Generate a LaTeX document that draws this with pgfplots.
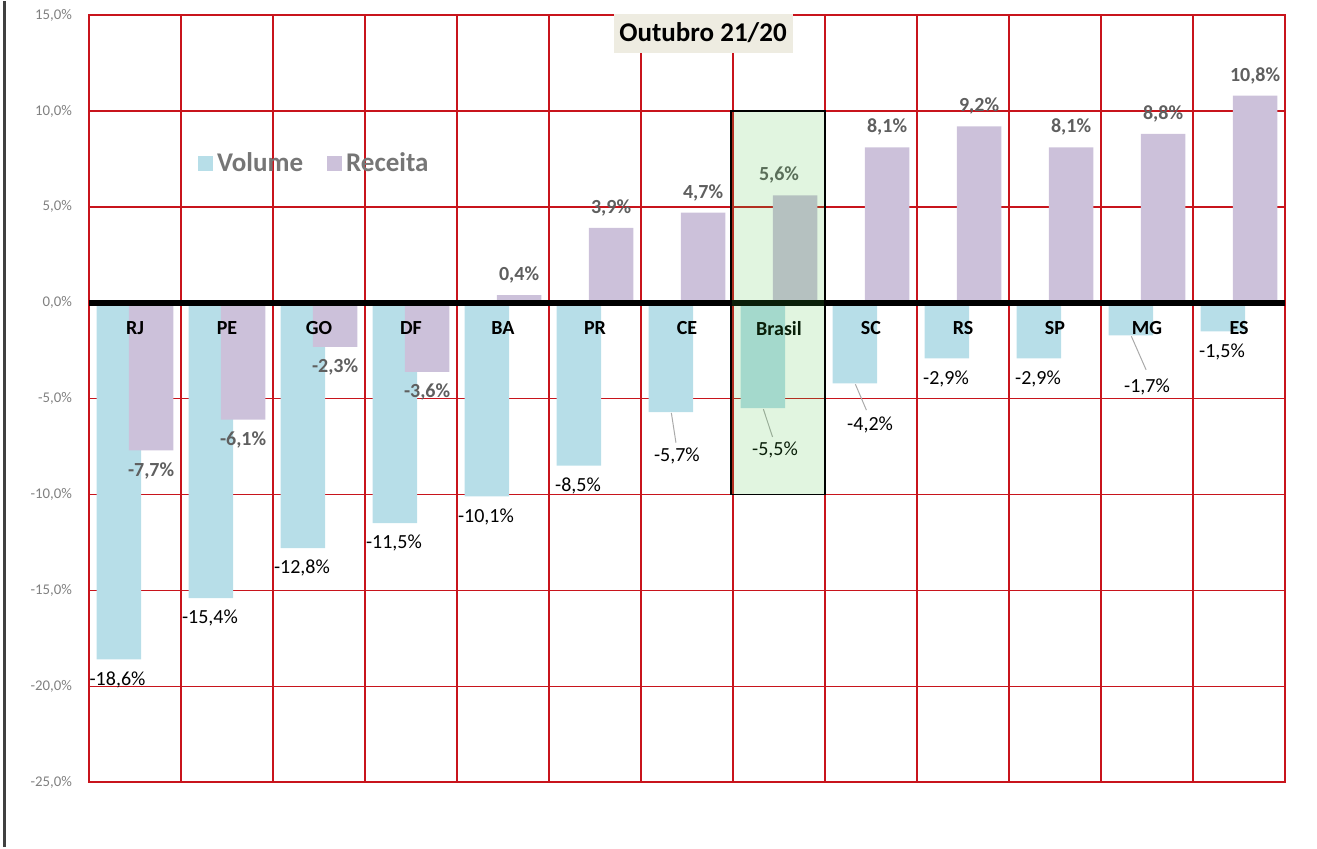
\documentclass[border=0pt]{standalone}
\usepackage{pgfplots}
\pgfplotsset{compat=1.18}
\usepackage{pgfplotstable}
\usepackage{fontspec}
\setmainfont{Carlito}
\definecolor{volc}{RGB}{183,222,232}
\definecolor{recc}{RGB}{204,193,218}
\definecolor{gridred}{RGB}{200,20,28}
\definecolor{tickgray}{RGB}{128,128,128}
\definecolor{labgray}{RGB}{95,95,95}
\definecolor{leggray}{RGB}{118,118,118}
\definecolor{titlebg}{RGB}{238,236,225}
\definecolor{boxgreen}{RGB}{66,193,61}
\definecolor{leadgray}{RGB}{170,170,170}
\definecolor{bordergray}{RGB}{64,64,64}

\pgfplotstableread{
x vol rec
0 -18.6 -7.7
1 -15.4 -6.1
2 -12.8 -2.3
3 -11.5 -3.6
4 -10.1 0.4
5 -8.5 3.9
6 -5.7 4.7
7 -5.5 5.6
8 -4.2 8.1
9 -2.9 9.2
10 -2.9 8.1
11 -1.7 8.8
12 -1.5 10.8
}\data

\begin{document}
\begin{tikzpicture}
\path (-44.5bp,-32.5bp) rectangle (614bp,390.5bp);
\draw[bordergray, line width=1.1bp] (-42.2bp,-32.5bp) -- (-42.2bp,390.5bp);
\begin{axis}[
  set layers=standard,
  at={(0,0)}, anchor=south west,
  scale only axis, width=598bp, height=383.5bp,
  clip=false,
  xmin=-0.5, xmax=12.5, ymin=-25, ymax=15,
  xtick={0,...,12},
  xticklabels={RJ,PE,GO,DF,BA,PR,CE,Brasil,SC,RS,SP,MG,ES},
  xticklabel style={/pgfplots/on layer=axis descriptions, anchor=center, yshift=227bp, font=\fontsize{10bp}{12bp}\selectfont\bfseries, text=black},
  minor xtick={-0.5,0.5,...,12.5},
  xminorgrids=true, xmajorgrids=false,
  ytick={-25,-20,...,15},
  yticklabels={{-25,0\%},{-20,0\%},{-15,0\%},{-10,0\%},{-5,0\%},{0,0\%},{5,0\%},{10,0\%},{15,0\%}},
  yticklabel style={font=\fontsize{7.4bp}{9bp}\selectfont, text=tickgray, xshift=-5bp},
  ymajorgrids=true,
  major tick length=0pt, minor tick length=0pt,
  grid style={gridred, line width=0.7bp},
  minor grid style={gridred, line width=0.7bp},
  axis line style={gridred, line width=0.7bp},
  legend style={draw=none, fill=none, at={(0.091,0.807)}, anchor=west,
    legend columns=-1, font=\fontsize{13.5bp}{16bp}\selectfont\bfseries, text=leggray,
    inner xsep=0pt, inner ysep=0pt,
    /tikz/every even column/.append style={column sep=10bp}},
]
\addplot[ybar, bar width=0.485, bar shift=-0.175, fill=volc, draw=none,
  legend image code/.code={\fill[volc] (0bp,-3.75bp) rectangle (7.5bp,3.75bp);}]
  table[x=x, y=vol]{\data};
\addlegendentry{Volume}
\addplot[ybar, bar width=0.485, bar shift=0.175, fill=recc, draw=none,
  legend image code/.code={\fill[recc] (0bp,-3.75bp) rectangle (7.5bp,3.75bp);}]
  table[x=x, y=rec]{\data};
\addlegendentry{Receita}

\draw[black, line width=3bp] (axis cs:-0.5,0) -- (axis cs:12.5,0);

% Volume labels
\begin{scope}[every node/.style={font=\fontsize{10bp}{12bp}\selectfont, text=black, inner sep=0pt}]
\node at (axis cs:-0.19,-19.65) {-18,6\%};
\node at (axis cs:0.815,-16.45) {-15,4\%};
\node at (axis cs:1.815,-13.85) {-12,8\%};
\node at (axis cs:2.815,-12.55) {-11,5\%};
\node at (axis cs:3.815,-11.15) {-10,1\%};
\node at (axis cs:4.815,-9.55) {-8,5\%};
\node at (axis cs:5.89,-8.0) {-5,7\%};
\node at (axis cs:6.957,-7.69) {-5,5\%};
\node at (axis cs:7.99,-6.38) {-4,2\%};
\node at (axis cs:8.815,-4.0) {-2,9\%};
\node at (axis cs:9.815,-4.0) {-2,9\%};
\node at (axis cs:11.0,-4.4) {-1,7\%};
\node at (axis cs:11.815,-2.55) {-1,5\%};
\end{scope}
\draw[leadgray, line width=0.5bp] (axis cs:5.83,-5.75) -- (axis cs:5.88,-7.3);
\draw[leadgray, line width=0.5bp] (axis cs:6.83,-5.55) -- (axis cs:6.93,-7.0);
\draw[leadgray, line width=0.5bp] (axis cs:7.83,-4.25) -- (axis cs:7.95,-5.6);
\draw[leadgray, line width=0.5bp] (axis cs:10.83,-1.75) -- (axis cs:10.99,-3.5);

% Receita labels
\begin{scope}[every node/.style={font=\fontsize{10bp}{12bp}\selectfont\bfseries, text=labgray, inner sep=0pt}]
\node at (axis cs:0.175,-8.75) {-7,7\%};
\node at (axis cs:1.175,-7.15) {-6,1\%};
\node at (axis cs:2.175,-3.35) {-2,3\%};
\node at (axis cs:3.175,-4.65) {-3,6\%};
\node at (axis cs:4.175,1.45) {0,4\%};
\node at (axis cs:5.175,4.95) {3,9\%};
\node at (axis cs:6.175,5.75) {4,7\%};
\node at (axis cs:7.0,6.65) {5,6\%};
\node at (axis cs:8.175,9.15) {8,1\%};
\node at (axis cs:9.175,10.25) {9,2\%};
\node at (axis cs:10.175,9.15) {8,1\%};
\node at (axis cs:11.175,9.85) {8,8\%};
\node at (axis cs:12.175,11.85) {10,8\%};
\end{scope}

\begin{pgfonlayer}{axis foreground}
\node[fill=titlebg, inner sep=0pt, minimum width=89.5bp, minimum height=19.5bp,
  font=\fontsize{13.5bp}{16bp}\selectfont\bfseries, text=black] at (axis cs:6.174,14.06) {Outubro 21/20};
\draw[black, line width=0.75bp, fill=boxgreen, fill opacity=0.16] (axis cs:6.48,-10) rectangle (axis cs:7.5,10);
\end{pgfonlayer}
\end{axis}
\end{tikzpicture}
\end{document}
